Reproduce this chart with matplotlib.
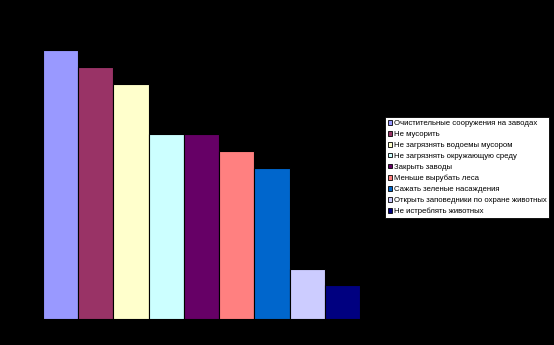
import matplotlib.pyplot as plt
from matplotlib.patches import Patch

labels = ['Очистительные сооружения на заводах', 'Не мусорить',
          'Не загрязнять водоемы мусором', 'Не загрязнять окружающую среду',
          'Закрыть заводы', 'Меньше вырубать леса', 'Сажать зеленые насаждения',
          'Открыть заповедники по охране животных', 'Не истреблять животных']
values = [16, 15, 14, 11, 11, 10, 9, 3, 2]
colors = ['#9999ff', '#993366', '#ffffcc', '#ccffff', '#660066',
          '#ff8080', '#0066cc', '#ccccff', '#000080']

W, H = 554, 345
fig = plt.figure(figsize=(W/100, H/100), dpi=100, facecolor='black')
ax = fig.add_axes([43/W, 1-319/H, (360-43)/W, (319-50)/H], facecolor='black')

x = range(len(values))
for i in x:
    ax.bar(i, values[i], width=1.0, color=colors[i], edgecolor='black',
           linewidth=0.8, label=labels[i])

ax.set_xlim(-0.5, len(values)-0.5)
ax.set_ylim(0, 16)
ax.axis('off')

handles = [Patch(facecolor=c, edgecolor='black', linewidth=0.6) for c in colors]
leg = fig.legend(handles, labels, loc='upper left',
                 bbox_to_anchor=(385/W, 1-117/H),
                 prop={'family': 'Liberation Sans', 'size': 5.6},
                 frameon=True, fancybox=False, framealpha=1, handlelength=0.6,
                 handleheight=0.6, handletextpad=0.2, labelspacing=0.48,
                 borderpad=0.35, borderaxespad=0)
leg.get_frame().set_facecolor('white')
leg.get_frame().set_edgecolor('black')
leg.get_frame().set_linewidth(0.6)

fig.savefig('out.png', dpi=100, facecolor='black')
